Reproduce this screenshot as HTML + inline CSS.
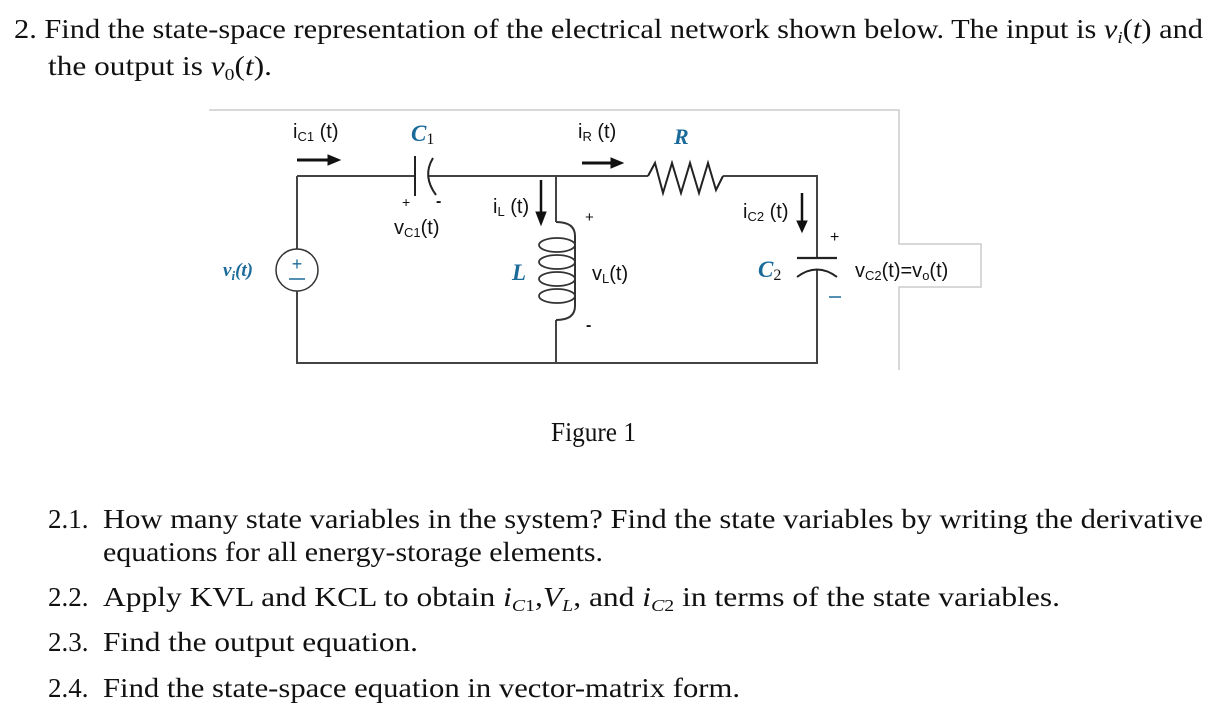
<!DOCTYPE html>
<html><head><meta charset="utf-8"><style>
html,body{margin:0;padding:0;background:#fff;}
svg{display:block;}
.s{font-family:"Liberation Serif",serif;font-size:27px;fill:#111;}
.a{font-family:"Liberation Sans",sans-serif;fill:#111;}
.b{font-family:"Liberation Serif",serif;font-style:italic;font-weight:bold;fill:#1a6a9a;}
</style></head><body>
<svg width="1216" height="716" viewBox="0 0 1216 716" xmlns="http://www.w3.org/2000/svg">
<text class="s" x="14" y="38" textLength="1189" lengthAdjust="spacingAndGlyphs">2. Find the state-space representation of the electrical network shown below. The input is <tspan font-style="italic">v</tspan><tspan font-style="italic" font-size="17" dy="5">i</tspan><tspan dy="-5">(</tspan><tspan font-style="italic">t</tspan>) and</text>
<text class="s" x="48" y="75" textLength="224" lengthAdjust="spacingAndGlyphs">the output is <tspan font-style="italic">v</tspan><tspan font-size="17" dy="5">0</tspan><tspan dy="-5">(</tspan><tspan font-style="italic">t</tspan>).</text>
<text class="s" x="551" y="441" font-size="23" textLength="85" lengthAdjust="spacingAndGlyphs">Figure 1</text>
<text class="s" x="48" y="528">2.1.</text>
<text class="s" x="103" y="528" textLength="1100" lengthAdjust="spacingAndGlyphs">How many state variables in the system? Find the state variables by writing the derivative</text>
<text class="s" x="103" y="561" textLength="500" lengthAdjust="spacingAndGlyphs">equations for all energy-storage elements.</text>
<text class="s" x="48" y="606">2.2.</text>
<text class="s" x="103" y="606" textLength="957" lengthAdjust="spacingAndGlyphs">Apply KVL and KCL to obtain <tspan font-style="italic">i</tspan><tspan font-style="italic" font-size="17" dy="5">C</tspan><tspan font-size="17">1</tspan><tspan dy="-5">,</tspan><tspan font-style="italic">V</tspan><tspan font-style="italic" font-size="17" dy="5">L</tspan><tspan dy="-5">, and </tspan><tspan font-style="italic">i</tspan><tspan font-style="italic" font-size="17" dy="5">C</tspan><tspan font-size="17">2</tspan><tspan dy="-5"> in terms of the state variables.</tspan></text>
<text class="s" x="48" y="651">2.3.</text>
<text class="s" x="103" y="651" textLength="315" lengthAdjust="spacingAndGlyphs">Find the output equation.</text>
<text class="s" x="48" y="697">2.4.</text>
<text class="s" x="103" y="697" textLength="637" lengthAdjust="spacingAndGlyphs">Find the state-space equation in vector-matrix form.</text>

<path d="M209 110 H899 V244 H981 V287 H899 V370" fill="none" stroke="#ccc" stroke-width="1.5"/>

<g fill="none" stroke="#444" stroke-width="2">
<path d="M297 176 V249 M297 291 V363 H817 V270 M817 258 V176 H723"/>
<circle cx="297" cy="270" r="21" stroke="#333" stroke-width="1.5"/>
<path d="M297 176 H415 M428 176 H648"/>
<path d="M415 156 V196" stroke="#222"/>
<path d="M433 158 Q422 176 436 195" stroke="#222"/>
<path d="M556 176 V222 M556 320 V363"/>
<path d="M556 222 Q575 222 575 236 V306 Q575 320 556 320" stroke="#333"/>
<g stroke="#333" stroke-width="1.8">
<ellipse cx="557" cy="245" rx="18" ry="7"/>
<ellipse cx="557" cy="262" rx="18" ry="7"/>
<ellipse cx="557" cy="279" rx="18" ry="7"/>
<ellipse cx="557" cy="296" rx="18" ry="7"/>
</g>
<path d="M648 176 L655 163 L663 193 L672 163 L681 193 L690 163 L699 193 L708 163 L716 190 L723 176" stroke="#222"/>
<path d="M797 258 H837" stroke="#222" stroke-width="2.2"/>
<path d="M797 277 Q817 262 837 277" stroke="#222"/>
</g>
<text x="297" y="270" font-family="Liberation Sans,sans-serif" font-size="18" fill="#1a6a9a" text-anchor="middle">+</text>
<line x1="289" y1="279" x2="305" y2="279" stroke="#1a6a9a" stroke-width="1.5"/>

<g fill="#111" stroke="#111">
<line x1="297" y1="160" x2="330" y2="160" stroke-width="3"/><path d="M340 160 L328 155 L328 165 Z"/>
<line x1="582" y1="163" x2="612" y2="163" stroke-width="3"/><path d="M623 163 L611 158 L611 168 Z"/>
<line x1="541" y1="180" x2="541" y2="214" stroke-width="2.5"/><path d="M541 225 L536 212 L546 212 Z"/>
<line x1="802" y1="193" x2="802" y2="223" stroke-width="2.5"/><path d="M802 232 L797 221 L807 221 Z"/>
</g>

<text class="a" x="293" y="138" font-size="20">i<tspan font-size="13" dy="3">C1</tspan><tspan dy="-3"> (t)</tspan></text>
<text class="b" x="411" y="141" font-size="23">C<tspan font-size="16" dy="3" font-style="normal" font-weight="normal" fill="#111">1</tspan></text>
<text class="a" x="578" y="138" font-size="20">i<tspan font-size="13" dy="3">R</tspan><tspan dy="-3"> (t)</tspan></text>
<text class="b" x="674" y="144" font-size="22" fill="#1d4f7a">R</text>
<text class="a" x="402" y="207" font-size="14">+</text>
<text class="a" x="436" y="206" font-size="16" font-weight="bold">-</text>
<text class="a" x="394" y="234" font-size="20">v<tspan font-size="13" dy="3">C1</tspan><tspan dy="-3">(t)</tspan></text>
<text class="a" x="493" y="213" font-size="20">i<tspan font-size="13" dy="3">L</tspan><tspan dy="-3"> (t)</tspan></text>
<text class="a" x="585" y="222" font-size="15">+</text>
<text class="a" x="586" y="330" font-size="16" font-weight="bold">-</text>
<text class="b" x="512" y="280" font-size="23" fill="#1d4f7a">L</text>
<text class="a" x="592" y="280" font-size="20">v<tspan font-size="13" dy="3">L</tspan><tspan dy="-3">(t)</tspan></text>
<text class="a" x="743" y="218" font-size="20">i<tspan font-size="13" dy="3">C2</tspan><tspan dy="-3"> (t)</tspan></text>
<text class="a" x="830" y="242" font-size="16" fill="#1a6a9a">+</text>
<line x1="829" y1="297" x2="841" y2="297" stroke="#1a6a9a" stroke-width="1.5"/>
<text class="b" x="758" y="277" font-size="23">C<tspan font-size="16" dy="3" font-style="normal" font-weight="normal" fill="#111">2</tspan></text>
<text class="a" x="855" y="277" font-size="20">v<tspan font-size="13" dy="3">C2</tspan><tspan dy="-3">(t)=v</tspan><tspan font-size="13" dy="3">o</tspan><tspan dy="-3">(t)</tspan></text>
<text class="b" x="223" y="276" font-size="19">v<tspan font-size="13" dy="4">i</tspan><tspan dy="-4">(t)</tspan></text>
</svg>
</body></html>
